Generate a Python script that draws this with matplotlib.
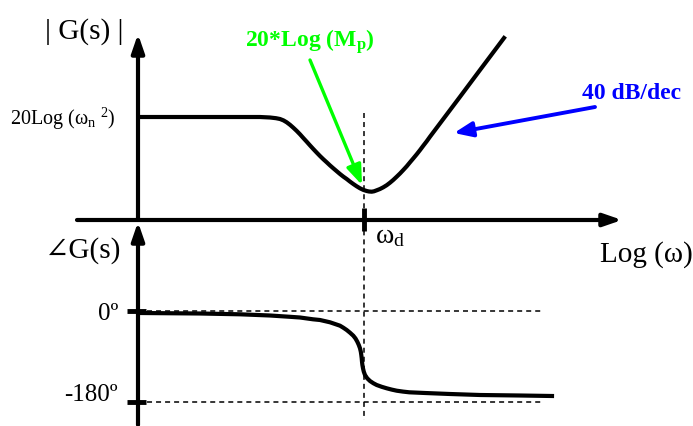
import matplotlib
matplotlib.use("Agg")
import matplotlib.pyplot as plt

# sketch of a second-order zero pair: magnitude on top, phase below
# everything is laid out in a 693 x 426 canvas (y grows downward)

mag_x = [140, 200, 260, 270, 276, 280, 283.5, 286.7, 290, 293.3, 296.7, 300,
         303.3, 306.7, 310, 313.3, 316.7, 320, 323.3, 326.7, 330, 333.3, 336.7,
         340, 343.3, 346.7, 350, 353.3, 356.7, 360, 363.3, 366.7, 369, 371.7,
         374, 376.7, 380, 383.3, 386.7, 390, 393.3, 396.7, 400, 403.3, 406.7,
         410, 413.3, 416.7, 420, 423.3, 426.7, 430, 440, 460, 480, 504]
mag_y = [117, 117, 117, 117.5, 118.2, 119, 120.4, 122.3, 124.8, 127.7, 130.9,
         134.3, 138, 141.7, 145.4, 149, 152.6, 156, 159.2, 162.3, 165.4, 168.3,
         171.2, 174, 176.6, 179, 181.6, 184, 186.3, 188.3, 189.9, 191, 191.5,
         191.7, 191.3, 190.3, 189, 187.3, 185.2, 182.7, 179.9, 176.7, 173.5,
         170, 166.3, 162.3, 158.4, 154.3, 150.1, 145.7, 141.3, 136.7, 123.4,
         96.8, 70, 38]

ph_x = [140, 200, 240, 270, 290, 300, 313, 320, 330, 340, 343.3, 346.7, 350,
        353.3, 355.5, 357.3, 358.8, 360, 360.8, 361.3, 361.7, 362, 362.4, 363,
        363.8, 365, 367.2, 370, 373.3, 376.7, 381.7, 386.7, 391.7, 396.7, 403,
        409.3, 425, 450, 480, 520, 552]
ph_y = [313, 313.5, 314.3, 315.5, 316.8, 317.5, 319.3, 320, 322.3, 325.7,
        327.7, 330, 332.7, 335.7, 338.5, 341.7, 345, 348.3, 351.7, 355, 358.3,
        361.7, 365, 368.3, 371.7, 375, 378.3, 381, 383.2, 385, 386.8, 388.3,
        389.6, 390.7, 391.6, 392.3, 393, 394, 395, 395.5, 396]

w_d = 364          # damped frequency marker
ph_0 = 311         # 0 deg level
ph_180 = 402       # -180 deg level

plt.rcParams['lines.scale_dashes'] = False
plt.rcParams['mathtext.fontset'] = 'custom'
plt.rcParams['mathtext.rm'] = 'Liberation Serif'
plt.rcParams['mathtext.it'] = 'Liberation Serif:italic'
plt.rcParams['mathtext.bf'] = 'Liberation Serif:bold'
serif = ['Liberation Serif', 'DejaVu Serif']

fig = plt.figure(figsize=(6.93, 4.26), dpi=100)
ax = fig.add_axes([0, 0, 1, 1])
ax.set_xlim(0, 693)
ax.set_ylim(426, 0)
ax.axis('off')


def axis_arrow(tail, tip):
    ax.annotate('', xy=tip, xytext=tail,
                arrowprops=dict(arrowstyle='-|>,head_length=1.1,head_width=0.38',
                                lw=3, color='black', shrinkA=0, shrinkB=0))


# axes
axis_arrow((138, 220), (138, 34))
axis_arrow((77, 220), (622, 220))
axis_arrow((138, 425), (138, 222))

# dashed guides
dash = (3.6, 2.9)
ax.plot([w_d, w_d], [113, 420], color='black', lw=1.1, dashes=dash)
ax.plot([138, 543], [ph_0, ph_0], color='black', lw=1.1, dashes=dash)
ax.plot([138, 543], [ph_180, ph_180], color='black', lw=1.1, dashes=dash)

# ticks
ax.plot([w_d, w_d], [208, 231], color='black', lw=3.5, solid_capstyle='butt')
ax.plot([127, 146], [ph_0, ph_0], color='black', lw=3.5, solid_capstyle='butt')
ax.plot([127, 146], [ph_180, ph_180], color='black', lw=3.5, solid_capstyle='butt')

# curves
ax.plot(mag_x, mag_y, color='black', lw=3, solid_joinstyle='round')
ax.plot(ph_x, ph_y, color='black', lw=3, solid_joinstyle='round')

# annotation arrows
ax.annotate('', xy=(362, 185), xytext=(310, 60),
            arrowprops=dict(arrowstyle='-|>,head_length=1.2,head_width=0.45',
                            lw=2.4, color='#00ff00', shrinkA=0, shrinkB=0))
ax.annotate('', xy=(454, 133), xytext=(595, 107),
            arrowprops=dict(arrowstyle='-|>,head_length=1.1,head_width=0.45',
                            lw=2.8, color='#0000ff', shrinkA=0, shrinkB=0))

# labels
ax.text(45, 39, '| G(s) |', fontsize=21, family=serif, va='baseline')
ax.text(10, 125, r'20Log (ω$_{\rm n}$ $^{2}$)', fontsize=14.5, family=serif,
        va='baseline')
ax.text(245, 47, r'20*Log (M$_\mathbf{p}$)', fontsize=17, family=serif,
        fontweight='bold', color='#00ff00', va='baseline')
ax.text(582, 99, '40 dB/dec', fontsize=17, family=serif, fontweight='bold',
        color='#0000ff', va='baseline')
ax.text(375, 243, r'ω$_{\rm d}$', fontsize=20, family=serif, va='baseline')
ax.text(600, 262, 'Log (ω)', fontsize=21, family=serif, va='baseline')
ax.text(45, 258, '∠G(s)', fontsize=21, family=serif, va='baseline')
ax.text(118, 320, '0º', fontsize=18, family=serif, ha='right', va='baseline')
ax.text(118, 401, '-180º', fontsize=18, family=serif, ha='right', va='baseline')

fig.savefig('out.png', dpi=100)
